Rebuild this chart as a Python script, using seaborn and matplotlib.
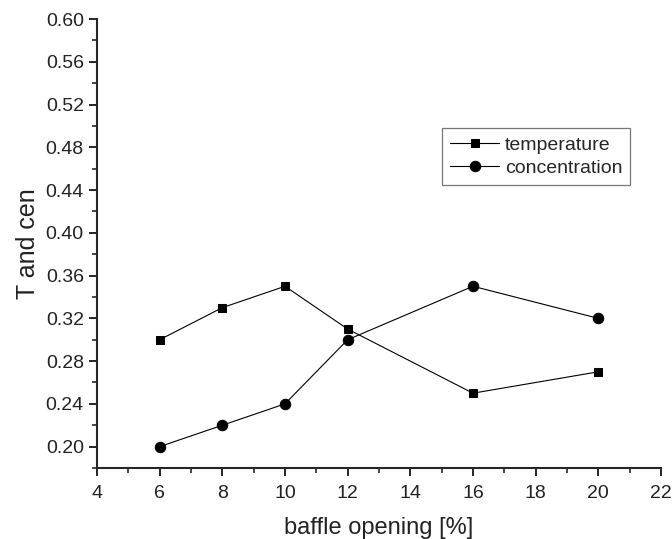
import pandas as pd
import matplotlib.pyplot as plt
import seaborn as sns
from matplotlib.ticker import MultipleLocator

# valeurs
opening = [6, 8, 10, 12, 16, 20]
temperature = [0.30, 0.33, 0.35, 0.31, 0.25, 0.27]
concentration = [0.20, 0.22, 0.24, 0.30, 0.35, 0.32]

df = pd.concat([
    pd.DataFrame({"opening": opening, "value": temperature, "serie": "temperature"}),
    pd.DataFrame({"opening": opening, "value": concentration, "serie": "concentration"}),
], ignore_index=True)

sns.set_style("ticks")
plt.rcParams["font.family"] = ["Liberation Sans", "DejaVu Sans"]

fig = plt.figure(figsize=(6.72, 5.39), dpi=100)
ax = fig.add_axes([0.1443, 0.1317, 0.8393, 0.833])

sns.lineplot(data=df, x="opening", y="value", hue="serie", style="serie",
             markers={"temperature": "s", "concentration": "o"}, dashes=False,
             palette={"temperature": "black", "concentration": "black"},
             markersize=6, linewidth=0.8, markeredgecolor="black", ax=ax)

# cercles un peu plus gros que les carrés
for ln in ax.lines:
    if ln.get_marker() == "o":
        ln.set_markersize(7.5)
    elif ln.get_marker() == "s":
        ln.set_markersize(5.5)

ax.set_xlim(4, 22)
ax.set_ylim(0.18, 0.60)
ax.xaxis.set_major_locator(MultipleLocator(2))
ax.xaxis.set_minor_locator(MultipleLocator(1))
ax.yaxis.set_minor_locator(MultipleLocator(0.02))
ax.set_yticks([0.20 + 0.04 * i for i in range(11)])
ax.set_yticklabels([f"{0.20 + 0.04 * i:.2f}" for i in range(11)])
ax.tick_params(which="major", direction="out", length=6, width=1.2, labelsize=14,
               colors="black", labelcolor="#222222")
ax.tick_params(which="minor", direction="out", length=3.5, width=1.2)
ax.tick_params(axis="x", which="major", pad=6)
for s in ["top", "right"]:
    ax.spines[s].set_visible(False)
for s in ["left", "bottom"]:
    ax.spines[s].set_linewidth(1.5)

ax.set_xlabel("baffle opening [%]", fontsize=17, labelpad=11, color="#222222")
ax.set_ylabel("T and cen", fontsize=18, labelpad=4, color="#222222")

leg = ax.legend(loc="upper right", bbox_to_anchor=(0.945, 0.757), borderaxespad=0,
                fontsize=14, frameon=True, fancybox=False, edgecolor="#555555",
                handlelength=2.5, borderpad=0.4, labelspacing=0.3, handletextpad=0.3)
leg.get_frame().set_linewidth(0.9)
for h in leg.legend_handles:
    h.set_linewidth(0.8)
    h.set_color("black")

fig.savefig("out.png", dpi=100)
